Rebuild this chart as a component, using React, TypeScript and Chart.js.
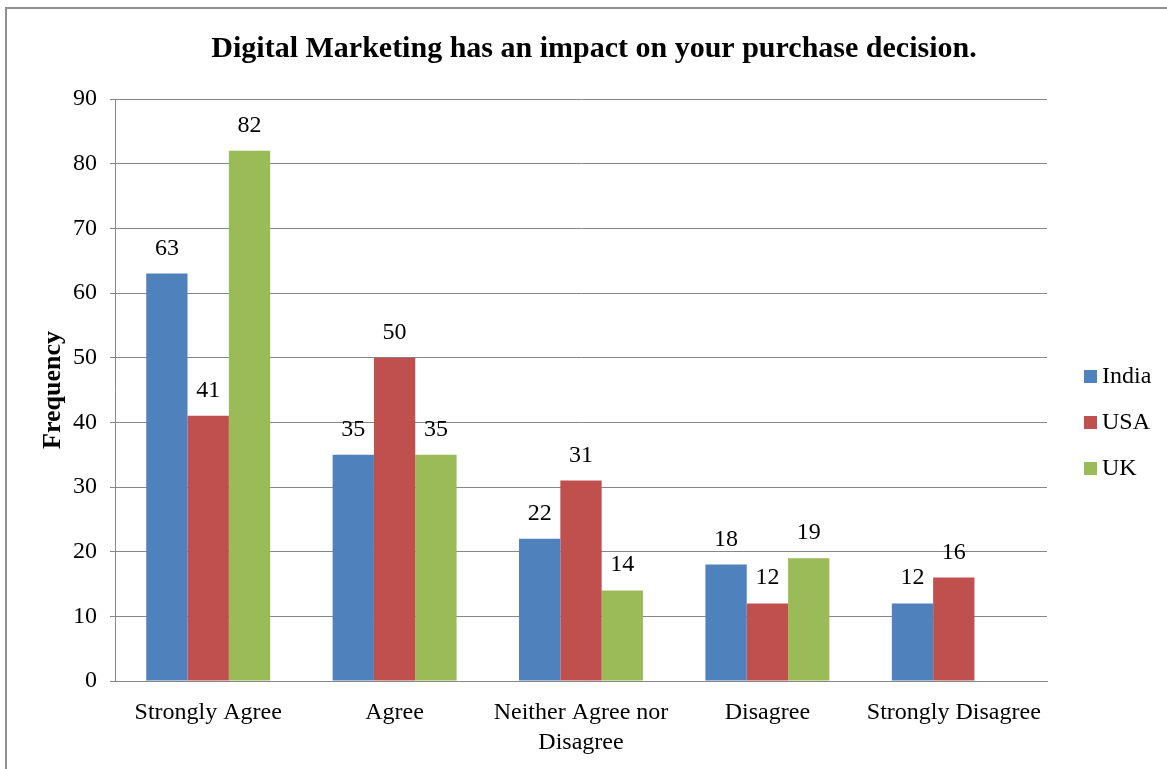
import React, { useEffect, useRef } from "react";
import { Chart, registerables } from "chart.js";

Chart.register(...registerables);

const categories: (string | string[])[] = [
  "Strongly Agree",
  "Agree",
  ["Neither Agree nor", "Disagree"],
  "Disagree",
  "Strongly Disagree",
];
const seriesNames = ["India", "USA", "UK"];
const india = [63, 35, 22, 18, 12];
const usa = [41, 50, 31, 12, 16];
const uk: (number | null)[] = [82, 35, 14, 19, null];
const seriesColors = ["#4F81BD", "#C0504D", "#9BBB59"];
const yTicks = [0, 10, 20, 30, 40, 50, 60, 70, 80, 90];
const titleText = "Digital Marketing has an impact on your purchase decision.";
const yAxisTitle = "Frequency";

const FONT = "'Liberation Serif', 'Times New Roman', serif";

const labelsPlugin = {
  id: "barValueLabels",
  afterDatasetsDraw(chart: any) {
    const ctx = chart.ctx;
    ctx.save();
    ctx.font = `24px ${FONT}`;
    ctx.fillStyle = "#000";
    ctx.textAlign = "center";
    ctx.textBaseline = "alphabetic";
    chart.data.datasets.forEach((ds: any, di: number) => {
      const meta = chart.getDatasetMeta(di);
      meta.data.forEach((el: any, i: number) => {
        const v = ds.data[i];
        if (v === null || v === undefined) return;
        ctx.fillText(String(v), el.x, el.y - 19);
      });
    });
    ctx.restore();
  },
};

const titleLegendPlugin = {
  id: "titleLegend",
  afterDraw(chart: any) {
    const ctx = chart.ctx;
    ctx.save();
    // title
    ctx.font = `bold 30px ${FONT}`;
    ctx.fillStyle = "#000";
    ctx.textAlign = "center";
    ctx.textBaseline = "alphabetic";
    ctx.fillText(titleText, 594, 57);
    // legend
    ctx.font = `24px ${FONT}`;
    ctx.textAlign = "left";
    ctx.textBaseline = "middle";
    chart.data.datasets.forEach((ds: any, i: number) => {
      const top = 370 + i * 46;
      ctx.fillStyle = ds.backgroundColor;
      ctx.fillRect(1084, top, 13, 13);
      ctx.fillStyle = "#000";
      ctx.fillText(ds.label, 1102, top + 7);
    });
    ctx.restore();
  },
};

export default function App() {
  const canvasRef = useRef<HTMLCanvasElement | null>(null);

  useEffect(() => {
    const canvas = canvasRef.current;
    if (!canvas) return;
    const chart = new Chart(canvas, {
      type: "bar",
      data: {
        labels: categories,
        datasets: [
          { label: seriesNames[0], data: india, backgroundColor: seriesColors[0] },
          { label: seriesNames[1], data: usa, backgroundColor: seriesColors[1] },
          { label: seriesNames[2], data: uk, backgroundColor: seriesColors[2] },
        ],
      },
      options: {
        animation: false,
        responsive: false,
        maintainAspectRatio: false,
        layout: { padding: { top: 99, right: 120, left: 0, bottom: 0 } },
        datasets: {
          bar: { categoryPercentage: 0.665, barPercentage: 1.0 },
        },
        plugins: {
          legend: { display: false },
          title: { display: false },
          tooltip: { enabled: false },
        },
        scales: {
          x: {
            grid: { display: false, drawTicks: false },
            border: { display: true, color: "#868686", width: 1 },
            ticks: {
              color: "#000",
              font: { family: FONT, size: 24, lineHeight: 1.25 },
              padding: 17,
              maxRotation: 0,
              autoSkip: false,
            },
            afterFit(scale: any) {
              scale.height = 88;
            },
          },
          y: {
            min: 0,
            max: 90,
            afterBuildTicks(scale: any) {
              scale.ticks = yTicks.map((v) => ({ value: v }));
            },
            grid: {
              color: "#868686",
              lineWidth: 1,
              tickLength: 5,
              drawTicks: true,
            },
            border: { display: true, color: "#868686", width: 1 },
            ticks: {
              color: "#000",
              font: { family: FONT, size: 24 },
              padding: 13,
            },
            title: {
              display: true,
              text: yAxisTitle,
              color: "#000",
              font: { family: FONT, size: 26, weight: "bold" },
              padding: { top: 38, bottom: 0 },
            },
            afterFit(scale: any) {
              scale.width = 115;
            },
          },
        },
      },
      plugins: [labelsPlugin, titleLegendPlugin],
    });
    return () => chart.destroy();
  }, []);

  return (
    <div
      style={{
        position: "fixed",
        left: 0,
        top: 0,
        width: 1167,
        height: 769,
        overflow: "hidden",
        background: "#fff",
      }}
    >
      <div
        style={{
          position: "absolute",
          left: 5,
          top: 7,
          width: 1400,
          height: 1000,
          border: "2px solid #909090",
        }}
      />
      <canvas
        ref={canvasRef}
        width={1167}
        height={769}
        style={{ position: "absolute", left: 0, top: 0, width: 1167, height: 769 }}
      />
    </div>
  );
}
